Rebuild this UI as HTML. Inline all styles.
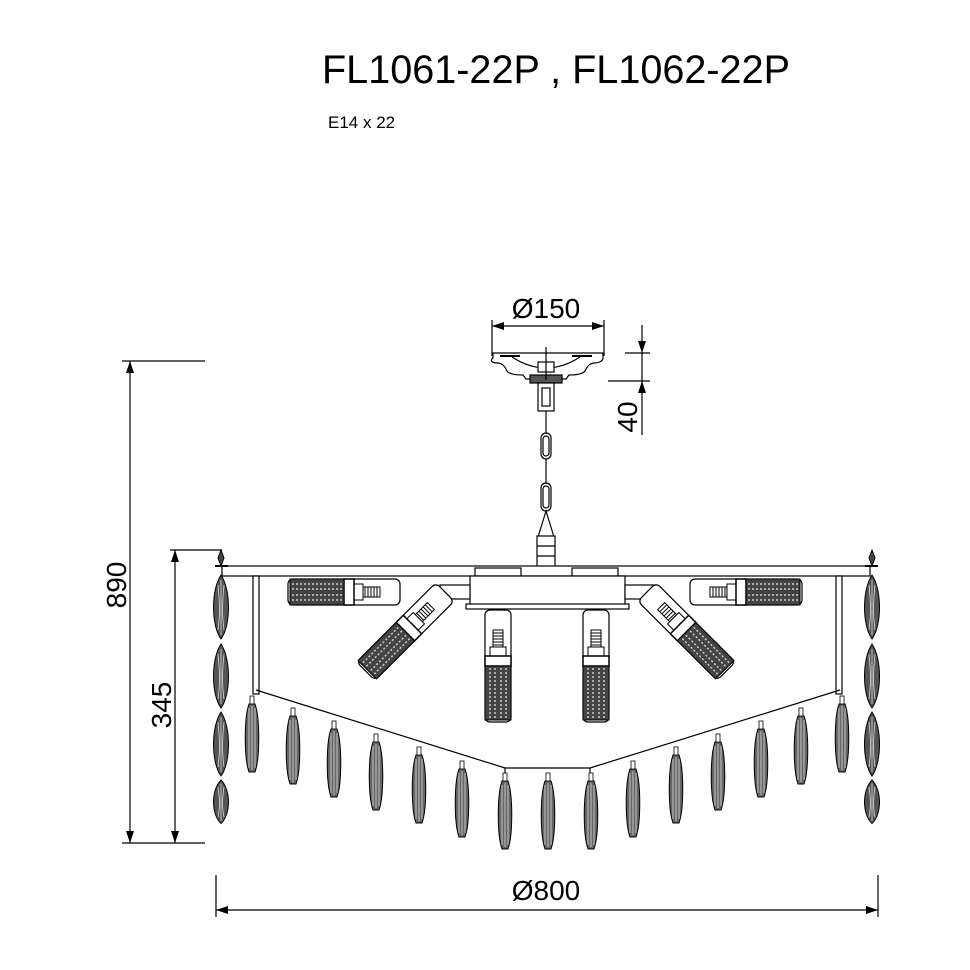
<!DOCTYPE html>
<html><head><style>html,body{margin:0;padding:0;background:#fff}svg{display:block}</style></head><body>
<svg width="970" height="970" viewBox="0 0 970 970" xmlns="http://www.w3.org/2000/svg" font-family="'Liberation Sans', sans-serif">
<defs>
<g id="bulb">
<rect x="-13" y="0" width="26" height="112" rx="5" fill="#fff" stroke="#000" stroke-width="1.2"/>
<rect x="-5" y="20" width="10" height="17" fill="#fff" stroke="#000"/>
<path d="M-5 23h10M-5 26h10M-5 29h10M-5 32h10M-5 35h10" stroke="#000"/>
<rect x="-8" y="37" width="16" height="9" fill="#fff" stroke="#000"/>
<rect x="-13" y="46" width="26" height="10" fill="#fff" stroke="#000" stroke-width="1.5"/>
<rect x="-13" y="56" width="26" height="54" fill="#444" stroke="#000"/>
<path d="M-8 58v50M-3 58v50M3 58v50M8 58v50" stroke="#ccc" stroke-width="1.5" stroke-dasharray="2 2"/>
</g>
<g id="cr">
<path d="M-3 -34h6C8 -20 8 20 3 34h-6C-8 20 -8 -20 -3 -34Z" fill="#666" stroke="#000"/>
<path d="M-3 -30v60M0 -32v64M3 -30v60" stroke="#ddd" stroke-width="0.8"/>
<rect x="-2" y="-42" width="4" height="8" fill="#fff" stroke="#000" stroke-width="0.8"/>
</g>
<g id="leaf">
<path d="M0 0 C10 15 10 50 0 64 C-10 50 -10 15 0 0Z" fill="#555" stroke="#000"/>
<path d="M-3 10 C-1 30 -1 40 -3 55M3 10 C1 30 1 40 3 55M0 5v55" stroke="#ddd" stroke-width="0.8" fill="none"/>
</g>
</defs>
<text x="322" y="83" font-size="39.5" textLength="468" lengthAdjust="spacingAndGlyphs">FL1061-22P , FL1062-22P</text>
<text x="328" y="128" font-size="17">E14 x 22</text>

<text x="546" y="318" font-size="28" text-anchor="middle">Ø150</text>
<g stroke="#000" stroke-width="1.2" fill="none">
<path d="M492 320v36M604 320v36M492 326h112"/>
<path d="M642 325v110M625 353h25M608 381h42"/>
<path d="M130 361v482M122 361h83M122 843h83M175 550v293M170 550h52"/>
<path d="M216 875v42M878 875v42M216 910h662"/>
</g>
<g fill="#000">
<path d="M492 326l12-4v8zM604 326l-12-4v8z"/>
<path d="M642 353l-4-12h8zM642 381l-4 12h8z"/>
<path d="M130 361l-4 12h8zM130 843l-4-12h8zM175 550l-4 12h8zM175 843l-4-12h8z"/>
<path d="M216 910l12-4v8zM878 910l-12-4v8z"/>
</g>
<text transform="translate(637,417) rotate(-90)" font-size="28" text-anchor="middle">40</text>
<text transform="translate(126,585) rotate(-90)" font-size="28" text-anchor="middle">890</text>
<text transform="translate(171,705) rotate(-90)" font-size="28" text-anchor="middle">345</text>
<text x="546" y="900" font-size="28" text-anchor="middle">Ø800</text>

<g stroke="#000" stroke-width="1.2" fill="#fff">
<path d="M493 353h110v5c0 3-4 5-8 5c-6 0-8 4-10 8c-3 4-12 4-16 4l-3 4h-40l-3-4c-4 0-13 0-16-4c-2-4-4-8-10-8c-4 0-8-2-4-5z"/>
<path d="M512 357q34 22 68 0" fill="none"/>
<path d="M500 356h20M572 356h20" stroke-width="2"/>
<rect x="538" y="362" width="16" height="10"/>
<rect x="530" y="375" width="32" height="8" fill="#555"/>
<rect x="538" y="383" width="16" height="28"/>
<rect x="542" y="388" width="8" height="18"/>
<line x1="546" y1="347" x2="546" y2="380"/>
<rect x="541" y="433" width="10" height="26" rx="5" fill="none"/>
<rect x="543" y="436" width="6" height="20" rx="3" fill="none"/>
<rect x="541" y="483" width="10" height="28" rx="5" fill="none"/>
<rect x="543" y="486" width="6" height="22" rx="3" fill="none"/>
<line x1="546" y1="411" x2="546" y2="433"/>
<line x1="546" y1="459" x2="546" y2="483"/>
<path d="M546 511l-8 26h16z" fill="none"/>
<rect x="537" y="536" width="18" height="32"/>
<path d="M537 546h18M537 556h18"/>
</g>

<g stroke="#000" stroke-width="1.2" fill="#fff">
<rect x="222" y="566" width="648" height="10"/>
<rect x="475" y="568" width="46" height="8"/>
<rect x="572" y="568" width="46" height="8"/>
<rect x="470" y="576" width="155" height="30"/>
<rect x="466" y="604" width="163" height="5"/>
<rect x="440" y="585" width="30" height="14"/>
<rect x="625" y="585" width="30" height="14"/>
<rect x="253" y="576" width="6" height="118"/>
<rect x="836" y="576" width="6" height="118"/>
<polyline points="256,690 505,768 590,768 840,690" fill="none"/>
<path d="M505 768v6M590 768v6" fill="none"/>
</g>

<use href="#bulb" transform="translate(400,592) rotate(90)"/>
<use href="#bulb" transform="translate(690,592) rotate(-90)"/>
<use href="#bulb" transform="translate(445,592) rotate(45)"/>
<use href="#bulb" transform="translate(647,592) rotate(-45)"/>
<use href="#bulb" transform="translate(498,610)"/>
<use href="#bulb" transform="translate(596,610)"/>

<g>
<path d="M218 558l3-8 3 8-3 8z" fill="#444" stroke="#000"/>
<line x1="215" y1="566" x2="228" y2="566" stroke="#000" stroke-width="2"/>
<path d="M869 558l3-8 3 8-3 8z" fill="#444" stroke="#000"/>
<line x1="865" y1="566" x2="878" y2="566" stroke="#000" stroke-width="2"/>
<use href="#leaf" transform="translate(221,575)"/>
<use href="#leaf" transform="translate(221,644)"/>
<use href="#leaf" transform="translate(221,712)"/>
<use href="#leaf" transform="translate(221,780) scale(1,0.68)"/>
<use href="#leaf" transform="translate(872,575)"/>
<use href="#leaf" transform="translate(872,644)"/>
<use href="#leaf" transform="translate(872,712)"/>
<use href="#leaf" transform="translate(872,780) scale(1,0.68)"/>
</g>

<use href="#cr" transform="translate(252,738)"/>
<use href="#cr" transform="translate(293,750)"/>
<use href="#cr" transform="translate(334,763)"/>
<use href="#cr" transform="translate(376,776)"/>
<use href="#cr" transform="translate(419,789)"/>
<use href="#cr" transform="translate(462,803)"/>
<use href="#cr" transform="translate(505,815)"/>
<use href="#cr" transform="translate(548,815)"/>
<use href="#cr" transform="translate(591,815)"/>
<use href="#cr" transform="translate(633,803)"/>
<use href="#cr" transform="translate(676,789)"/>
<use href="#cr" transform="translate(718,776)"/>
<use href="#cr" transform="translate(761,763)"/>
<use href="#cr" transform="translate(801,750)"/>
<use href="#cr" transform="translate(842,738)"/>
</svg>
</body></html>
